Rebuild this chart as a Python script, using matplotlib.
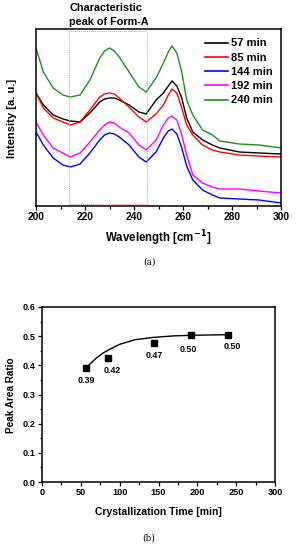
import matplotlib
matplotlib.use("Agg")
import matplotlib.pyplot as plt
from matplotlib.ticker import MultipleLocator, NullLocator, FormatStrFormatter

plt.rcParams['font.family'] = ['Liberation Sans', 'DejaVu Sans']
plt.rcParams['font.weight'] = 'bold'

# ---------------- data: panel (a) ----------------
wavelength = [200, 203, 207, 211, 214, 218, 222, 226, 228, 230, 232, 234, 238, 242, 245,
              249, 252, 254, 255.5, 257.5, 259.5, 261.5, 264, 268, 272, 275,
              283, 291, 300]
int_57 = [113, 101, 91, 87, 85, 84, 93, 104, 107, 108, 108, 106, 101, 94, 92,
          106, 113, 120, 125, 120, 108, 88, 74, 66, 61, 58, 54, 53, 52]
int_85 = [113, 98, 88, 84, 81, 84, 96, 109, 112, 113, 112, 108, 99, 89, 84,
          92, 101, 111, 117, 113, 98, 81, 71, 61, 56, 54, 51, 50, 49]
int_144 = [74, 61, 48, 41, 39, 42, 53, 66, 71, 73, 72, 69, 61, 49, 44,
           54, 68, 75, 77, 72, 58, 40, 26, 16, 11, 8, 7, 6, 3]
int_192 = [84, 71, 58, 53, 49, 53, 64, 76, 81, 84, 83, 79, 73, 61, 56,
           66, 81, 88, 90, 86, 71, 51, 31, 23, 19, 17, 17, 15, 13]
int_240 = [158, 134, 118, 111, 109, 111, 126, 148, 155, 158, 155, 149, 134, 119, 114,
           128, 143, 154, 160, 153, 134, 106, 91, 76, 71, 65, 62, 61, 58]
series_labels = ['57 min', '85 min', '144 min', '192 min', '240 min']
series_colors = ['black', '#ff0000', '#0000ff', '#ff00ff', '#1f8f1f']
region_a = [213.6, 245.2]

# ---------------- data: panel (b) ----------------
cryst_time = [57, 85, 144, 192, 240]
area_ratio = [0.390, 0.424, 0.476, 0.504, 0.504]
ratio_labels = ['0.39', '0.42', '0.47', '0.50', '0.50']
fit_time = [57, 62, 70, 78, 85, 100, 120, 144, 170, 192, 215, 240]
fit_ratio = [0.390, 0.405, 0.425, 0.441, 0.452, 0.472, 0.488, 0.496, 0.501, 0.503, 0.504, 0.505]

W, H = 298, 550
fig = plt.figure(figsize=(W / 100, H / 100), dpi=100)

def fx(px):
    return px / W

def fy(py):
    return 1 - py / H

# ---------------- panel (a) ----------------
ax1 = fig.add_axes([fx(36), fy(206), fx(281) - fx(36), fy(29) - fy(206)])
for vals, lab, col in zip([int_57, int_85, int_144, int_192, int_240],
                          series_labels, series_colors):
    ax1.plot(wavelength, vals, color=col, lw=1.0, label=lab)

ax1.set_xlim(200, 300)
ax1.set_ylim(0, 177)
ax1.xaxis.set_major_locator(MultipleLocator(20))
ax1.xaxis.set_minor_locator(MultipleLocator(10))
ax1.yaxis.set_major_locator(NullLocator())
ax1.tick_params(axis='x', which='major', direction='out', length=3, width=0.9,
                labelsize=7.4, pad=1.5)
ax1.tick_params(axis='x', which='minor', direction='out', length=2, width=0.9)
for lbl in ax1.get_xticklabels():
    lbl.set_fontweight('bold')
for s in ax1.spines.values():
    s.set_linewidth(1.1)

# characteristic region box
rc = '#ff8c8c'
box_kw = dict(color=rc, lw=0.7, ls=(0, (1, 1)))
ax1.plot([region_a[0], region_a[0]], [2, 175], **box_kw)
ax1.plot([region_a[1], region_a[1]], [2, 175], **box_kw)
ax1.plot(region_a, [2, 2], **box_kw)
ax1.plot(region_a, [175, 175], **box_kw)

fig.text(fx(69), fy(8), 'Characteristic', fontsize=7.8, fontweight='bold',
         ha='left', va='center')
fig.text(fx(69), fy(22), 'peak of Form-A', fontsize=7.8, fontweight='bold',
         ha='left', va='center')

leg = ax1.legend(loc='upper left', bbox_to_anchor=(fx(205), fy(38.5)),
                 bbox_transform=fig.transFigure, frameon=False,
                 fontsize=8, handlelength=2.05, handletextpad=0.25,
                 labelspacing=0.38, borderpad=0, borderaxespad=0)
for t in leg.get_texts():
    t.set_fontweight('bold')
for l in leg.get_lines():
    l.set_linewidth(1.2)

fig.text(fx(12), fy(118), 'Intensity [a. u.]', rotation=90, fontsize=8,
         fontweight='bold', ha='center', va='center')
fig.text(fx(158), fy(238), 'Wavelength [cm$^{\\mathbf{-1}}$]', fontsize=8.3,
         fontweight='bold', ha='center', va='center')
fig.text(fx(149), fy(262), '(a)', fontsize=6.5, family='DejaVu Serif',
         fontweight='normal', ha='center', va='center')

# ---------------- panel (b) ----------------
ax2 = fig.add_axes([fx(42), fy(482), fx(275) - fx(42), fy(307) - fy(482)])
ax2.plot(fit_time, fit_ratio, color='black', lw=1.0)
ax2.plot(cryst_time, area_ratio, ls='none', marker='s', ms=4.2, color='black')
offsets = [(0, -12), (4, -12.5), (0, -12.5), (-3, -14), (4, -11.5)]
for t, v, s, (dx, dy) in zip(cryst_time, area_ratio, ratio_labels, offsets):
    ax2.annotate(s, (t, v), xytext=(dx * 0.72, dy * 0.72), textcoords='offset points',
                 ha='center', va='center', fontsize=6.4, fontweight='bold')

ax2.set_xlim(0, 300)
ax2.set_ylim(0, 0.6)
ax2.xaxis.set_major_locator(MultipleLocator(50))
ax2.xaxis.set_minor_locator(MultipleLocator(25))
ax2.yaxis.set_major_locator(MultipleLocator(0.1))
ax2.yaxis.set_minor_locator(MultipleLocator(0.05))
ax2.yaxis.set_major_formatter(FormatStrFormatter('%.1f'))
ax2.tick_params(which='major', direction='out', length=3, width=0.9,
                labelsize=6.6, pad=1.5)
ax2.tick_params(which='minor', direction='out', length=1.8, width=0.9)
for lbl in ax2.get_xticklabels() + ax2.get_yticklabels():
    lbl.set_fontweight('bold')
for s in ax2.spines.values():
    s.set_linewidth(1.1)

fig.text(fx(11), fy(395), 'Peak Area Ratio', rotation=90, fontsize=7.2,
         fontweight='bold', ha='center', va='center')
fig.text(fx(158), fy(512), 'Crystallization Time [min]', fontsize=7.5,
         fontweight='bold', ha='center', va='center')
fig.text(fx(149), fy(538), '(b)', fontsize=6.5, family='DejaVu Serif',
         fontweight='normal', ha='center', va='center')

fig.savefig('out.png', dpi=100)
